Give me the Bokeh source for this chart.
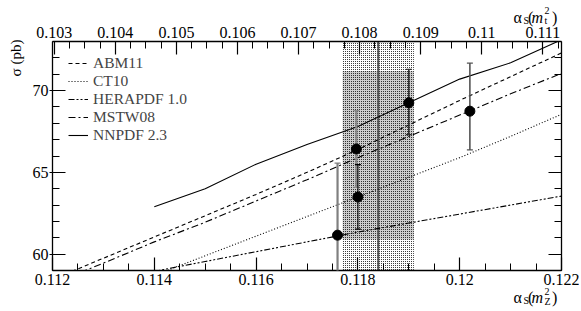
import math
from bokeh.plotting import figure
from bokeh.models import (Range1d, LinearAxis, SingleIntervalTicker, CustomJSTickFormatter,
                          Legend, LegendItem, Whisker, TeeHead, ColumnDataSource, Label)
from bokeh.embed import file_html
from bokeh.resources import INLINE

# ---------------- data ----------------
as_abm11 = [0.112, 0.113, 0.114, 0.115, 0.116, 0.117, 0.118, 0.119, 0.120, 0.121, 0.122]
sig_abm11 = [58.45, 59.75, 61.05, 62.35, 63.65, 65.0, 66.4, 67.9, 69.4, 70.85, 72.3]

as_ct10 = [0.113, 0.114, 0.115, 0.116, 0.117, 0.118, 0.119, 0.120, 0.121, 0.122]
sig_ct10 = [57.5, 58.7, 59.9, 61.1, 62.3, 63.5, 64.7, 65.9, 67.2, 68.55]

as_hera = [0.114, 0.115, 0.116, 0.117, 0.118, 0.119, 0.120, 0.121, 0.122]
sig_hera = [58.95, 59.55, 60.15, 60.75, 61.35, 61.9, 62.45, 63.0, 63.55]

as_mstw = [0.112, 0.113, 0.114, 0.115, 0.116, 0.117, 0.118, 0.119, 0.120, 0.121, 0.122]
sig_mstw = [58.2, 59.45, 60.75, 61.95, 63.25, 64.55, 65.9, 67.2, 68.5, 69.8, 71.05]

as_nnpdf = [0.114, 0.115, 0.116, 0.117, 0.118, 0.119, 0.120, 0.121, 0.122]
sig_nnpdf = [62.9, 64.0, 65.5, 66.7, 67.8, 69.25, 70.7, 71.7, 73.1]

series_names = ["ABM11", "CT10", "HERAPDF 1.0", "MSTW08", "NNPDF 2.3"]

# extracted alpha_s values (one per PDF set)
meas_as = [0.1176, 0.11797, 0.1180, 0.1190, 0.1202]
meas_sig = [61.16, 66.43, 63.49, 69.25, 68.74]
meas_hi = [65.57, 68.78, 65.47, 71.30, 71.68]
meas_lo = [56.80, 64.08, 61.53, 67.31, 66.37]

# world average alpha_s(mZ) and measured cross-section band
wa_center = 0.1184
wa_err = 0.0007
xsec_lo = 60.9
xsec_hi = 71.2

# axis ranges
X0, X1 = 0.112, 0.122
Y0, Y1 = 59.0, 73.0
XT0, XT1 = 0.102972, 0.111305

# ---------------- layout ----------------
W, H = 579, 309
FL, FR, FT, FB = 52, 561, 41, 270   # pixel box of the axes


def ext(a, b, lo_px, hi_px, lo_edge, hi_edge):
    k = (b - a) / (hi_px - lo_px)
    return a - (lo_px - lo_edge) * k, b + (hi_edge - hi_px) * k


XS, XE = ext(X0, X1, FL, FR, 0, W)
YE, YS = Y1 + FT * (Y1 - Y0) / (FB - FT), Y0 - (H - FB) * (Y1 - Y0) / (FB - FT)
TS, TE = ext(XT0, XT1, FL, FR, 0, W)


def dx(px):
    return XS + px * (XE - XS) / W


def dy(py):
    return YE - py * (YE - YS) / H


FONT = "Liberation Serif"

p = figure(width=W, height=H, x_range=Range1d(XS, XE), y_range=Range1d(YS, YE),
           output_backend="svg", toolbar_location=None,
           min_border_left=0, min_border_right=0, min_border_top=0, min_border_bottom=0,
           x_axis_location=None, y_axis_location=None)
p.grid.visible = False
p.outline_line_color = None
p.background_fill_color = "white"
p.border_fill_color = "white"

fmt = CustomJSTickFormatter(code="return String(Number(tick.toFixed(4)));")
blank = CustomJSTickFormatter(code="return '';")
EPS = 1e-9


def style_axis(ax, tick_out=0):
    ax.axis_line_color = "black"
    ax.axis_line_width = 1.3
    ax.major_tick_line_color = "black"
    ax.minor_tick_line_color = "black"
    ax.major_tick_line_width = 1.2
    ax.minor_tick_line_width = 1.0
    ax.major_tick_in = 13
    ax.major_tick_out = tick_out
    ax.minor_tick_in = 7
    ax.minor_tick_out = 0
    ax.major_label_text_font = FONT
    ax.major_label_text_font_size = "16px"
    ax.major_label_text_color = "black"


# ---------------- band ----------------
p.quad(left=[wa_center - wa_err], right=[wa_center + wa_err], bottom=[xsec_lo], top=[xsec_hi],
       fill_color="#cdcdcd", line_color=None)
p.quad(left=[wa_center - wa_err], right=[wa_center + wa_err], bottom=[Y0], top=[Y1],
       fill_alpha=0, line_color=None, hatch_pattern="dot", hatch_color="black",
       hatch_scale=2, hatch_weight=1, hatch_alpha=1.0)
p.segment(x0=[wa_center], y0=[Y0], x1=[wa_center], y1=[Y1], line_color="#555555", line_width=2)

# ---------------- curves ----------------
r_abm = p.line(as_abm11, sig_abm11, line_color="black", line_width=1.1, line_dash="4 3")
r_ct = p.line(as_ct10, sig_ct10, line_color="black", line_width=1.1, line_dash="1 2")
r_hera = p.line(as_hera, sig_hera, line_color="black", line_width=1.1, line_dash="6 2 2 2 2 2")
r_mstw = p.line(as_mstw, sig_mstw, line_color="black", line_width=1.1, line_dash="7 3 2 3")
r_nn = p.line(as_nnpdf, sig_nnpdf, line_color="black", line_width=1.1)

# white masks outside the axes box (curves are clipped at the box edges)
p.quad(left=[XS, XS, XS, X1], right=[XE, XE, X0, XE], bottom=[YS, Y1, YS, YS],
       top=[Y0, YE, YE, YE], fill_color="white", line_color=None)

# ---------------- axes (fixed at the box edges) ----------------
bottom = LinearAxis(ticker=SingleIntervalTicker(interval=0.002, num_minor_ticks=4), formatter=fmt,
                    fixed_location=Y0, bounds=(X0 - EPS, X1 + EPS))
style_axis(bottom)
bottom.major_label_standoff = 3
p.add_layout(bottom, "below")

left = LinearAxis(ticker=SingleIntervalTicker(interval=5, num_minor_ticks=5), formatter=fmt,
                  fixed_location=X0, bounds=(Y0, Y1))
style_axis(left, tick_out=3)
left.major_label_standoff = 1
p.add_layout(left, "left")

right = LinearAxis(ticker=SingleIntervalTicker(interval=5, num_minor_ticks=5), formatter=blank,
                   fixed_location=X1, bounds=(Y0, Y1))
style_axis(right)
right.major_label_standoff = 0
p.add_layout(right, "right")

p.extra_x_ranges = {"mt": Range1d(TS, TE)}
top = LinearAxis(x_range_name="mt", ticker=SingleIntervalTicker(interval=0.001, num_minor_ticks=4),
                 formatter=fmt, fixed_location=Y1, bounds=(XT0, XT1))
style_axis(top)
top.major_label_standoff = 4
p.add_layout(top, "above")

# ---------------- measurements ----------------
bar_colors = ["#808080", "#8a8a8a", "#000000", "#333333", "#555555"]
bar_widths = [2.2, 2.2, 1.1, 1.6, 1.6]
for i in range(len(meas_as)):
    lo = max(meas_lo[i], Y0)
    src = ColumnDataSource(dict(x=[meas_as[i]], lo=[lo], hi=[meas_hi[i]]))
    uh = TeeHead(size=6, line_color=bar_colors[i], line_width=1.2)
    lh = TeeHead(size=6, line_color=bar_colors[i], line_width=1.2) if meas_lo[i] > Y0 else None
    w = Whisker(source=src, base="x", lower="lo", upper="hi", dimension="height",
                line_color=bar_colors[i], line_width=bar_widths[i],
                upper_head=uh, lower_head=lh, level="annotation")
    p.add_layout(w)
p.scatter(meas_as, meas_sig, size=10, color="black", level="overlay")

# ---------------- legend ----------------
legend = Legend(items=[LegendItem(label=n, renderers=[r]) for n, r in
                       zip(series_names, [r_abm, r_ct, r_hera, r_mstw, r_nn])],
                location=(68, H - 62 - 82), padding=0, margin=0, spacing=-2,
                glyph_width=20, glyph_height=16, label_height=16, label_standoff=5,
                label_text_font=FONT, label_text_font_size="15.5px",
                background_fill_alpha=0, border_line_color=None)
p.add_layout(legend)

# ---------------- axis titles ----------------


def add_alpha_title(px, base_py, sub):
    parts = [("α", 0, 0, "16px", "normal"),
             ("S", 10, 3, "10px", "normal"),
             ("(", 14.5, 0, "16px", "normal"),
             ("m", 18, 0, "16px", "italic"),
             ("2", 31, -6.5, "10px", "normal"),
             (sub, 31, 3.5, "10px", "normal"),
             (")", 38.5, 0, "16px", "normal")]
    for t, ox, oy, fs, st in parts:
        p.add_layout(Label(x=dx(px + ox), y=dy(base_py + oy), text=t, text_font=FONT,
                           text_font_size=fs, text_font_style=st, text_color="black",
                           text_align="left", text_baseline="alphabetic"))


add_alpha_title(513, 297, "Z")
add_alpha_title(513, 16.7, "t")

p.add_layout(Label(x=dx(15.5), y=dy(57.5), text="σ (pb)", angle=math.pi / 2, text_font=FONT,
                   text_font_size="15px", text_color="black",
                   text_align="center", text_baseline="alphabetic"))

open("out.html", "w").write(file_html(p, INLINE))
